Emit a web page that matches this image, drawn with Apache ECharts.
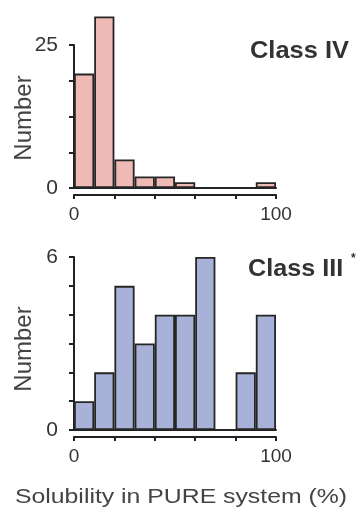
<!DOCTYPE html>
<html>
<head>
<meta charset="utf-8">
<script src="https://cdn.jsdelivr.net/npm/echarts@6/dist/echarts.min.js"></script>
<style>html,body{margin:0;padding:0;background:#fff;}#c{width:358px;height:510px;}</style>
</head>
<body>
<div id="c"></div>
<script>
// Bins of solubility (%): 0-10, 10-20, ..., 90-100
const bins = ['0-10','10-20','20-30','30-40','40-50','50-60','60-70','70-80','80-90','90-100'];
const classIV = [20, 30, 5, 2, 2, 1, 0, 0, 0, 1];
const classIII = [1, 2, 5, 3, 4, 4, 6, 0, 2, 4];
const xTicks = [0, 100];
const yTicksIV = [0, 25];
const yTicksIII = [0, 6];

const FONT = 'Liberation Sans';
const axisCol = '#222';
const lblCol = '#333';

function showOnly(list){ return v => (list.indexOf(Math.round(v*100)/100) >= 0 ? String(v) : ''); }

const chart = echarts.init(document.getElementById('c'), null, {renderer:'canvas'});
const grids = [
  {left:74, top:45, width:202, height:143},
  {left:74, top:257, width:202, height:173}
];
function catAxis(gi){
  return {type:'category', gridIndex:gi, data:bins, boundaryGap:true,
    axisLine:{show:true, lineStyle:{color:axisCol, width:2}}, axisTick:{show:false}, axisLabel:{show:false}, splitLine:{show:false}};
}
function valXAxis(gi){
  return {type:'value', gridIndex:gi, min:0, max:100, interval:20, position:'bottom', offset:7,
    axisLine:{show:true, lineStyle:{color:axisCol, width:2}},
    axisTick:{show:true, length:4, lineStyle:{color:axisCol, width:2}},
    axisLabel:{formatter:showOnly(xTicks), fontFamily:FONT, fontSize:19, color:lblCol, margin:10},
    splitLine:{show:false}};
}
function yAx(gi, max, interval, ticks){
  return {type:'value', gridIndex:gi, min:0, max:max, interval:interval, offset:6,
    axisLine:{show:true, lineStyle:{color:axisCol, width:2}},
    axisTick:{show:true, length:5, lineStyle:{color:axisCol, width:2}},
    axisLabel:{formatter:showOnly(ticks), fontFamily:FONT, fontSize:21, color:lblCol, margin:10},
    splitLine:{show:false}};
}
const option = {
  animation:false,
  grid: grids,
  xAxis: [catAxis(0), valXAxis(0), catAxis(1), valXAxis(1)],
  yAxis: [yAx(0, 25, 6.25, yTicksIV), yAx(1, 6, 1, yTicksIII)],
  series: [
    {type:'bar', xAxisIndex:0, yAxisIndex:0, data:classIV, barCategoryGap:'0%', clip:false,
      itemStyle:{color:'#EFB9B5', borderColor:'#262626', borderWidth:1.8}},
    {type:'bar', xAxisIndex:2, yAxisIndex:1, data:classIII, barCategoryGap:'0%', clip:false,
      itemStyle:{color:'#A8B1D8', borderColor:'#262626', borderWidth:1.8}}
  ],
  graphic: [
    {type:'text', x:250, y:51, scaleX:1.06, style:{text:'Class IV', font:'bold 24px "'+FONT+'"', fill:'#333', verticalAlign:'middle'}},
    {type:'text', x:248, y:269, scaleX:1.05, style:{text:'Class III', font:'bold 24px "'+FONT+'"', fill:'#333', verticalAlign:'middle'}},
    {type:'text', x:351, y:253, style:{text:'*', font:'bold 12px "'+FONT+'"', fill:'#333'}},
    {type:'text', x:24, y:118, rotation:Math.PI/2, style:{text:'Number', font:'24px "'+FONT+'"', fill:'#444', align:'center', verticalAlign:'middle'}},
    {type:'text', x:24, y:349, rotation:Math.PI/2, style:{text:'Number', font:'24px "'+FONT+'"', fill:'#444', align:'center', verticalAlign:'middle'}},
    {type:'text', x:181, y:497, scaleX:1.24, style:{text:'Solubility in PURE system (%)', font:'20px "'+FONT+'"', fill:'#444', align:'center', verticalAlign:'middle'}}
  ]
};
chart.setOption(option);
</script>
</body>
</html>
